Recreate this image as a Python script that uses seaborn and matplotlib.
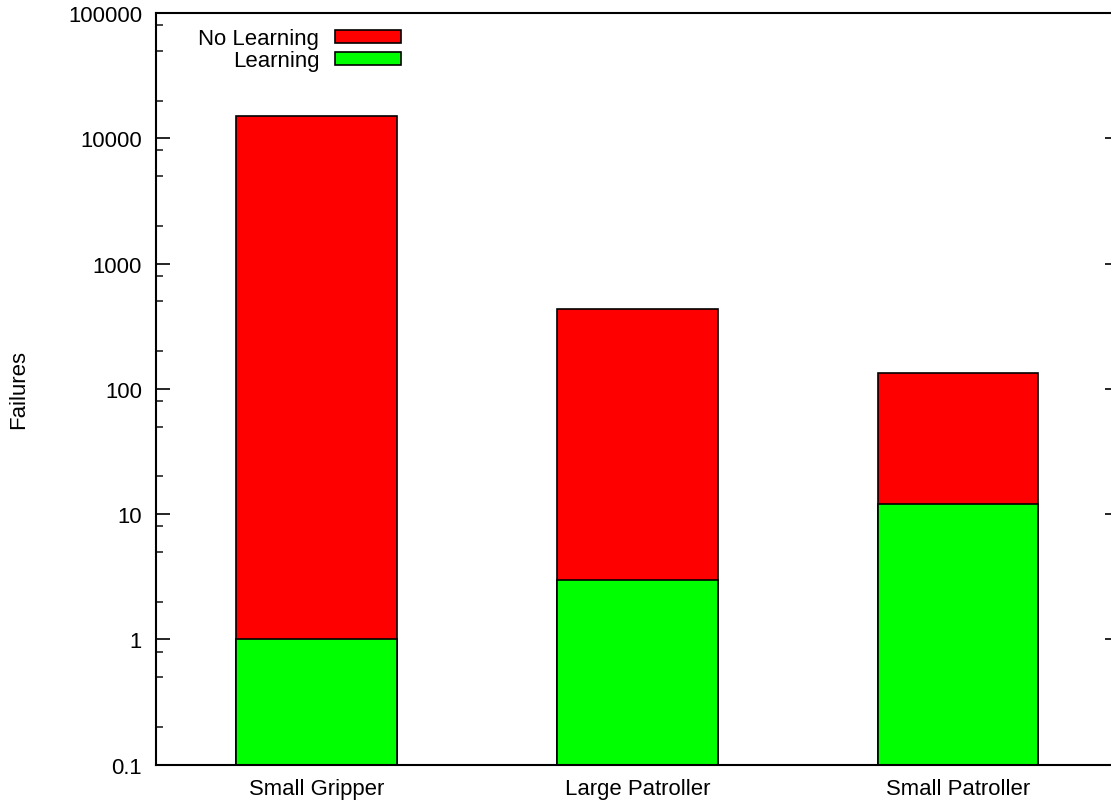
import matplotlib
matplotlib.use("Agg")
import matplotlib.pyplot as plt
import matplotlib.ticker as mticker
from matplotlib.patches import Patch
import seaborn as sns
import pandas as pd

categories = ["Small Gripper", "Large Patroller", "Small Patroller"]
no_learning = [15200, 435, 133]
learning = [1, 3, 12]
series_names = ["No Learning", "Learning"]
series_colors = ["#ff0000", "#00ff00"]

sns.set_theme(style="white")
plt.rcParams["font.family"] = ["Liberation Sans", "DejaVu Sans"]
plt.rcParams["text.color"] = "black"
plt.rcParams["legend.labelcolor"] = "black"
FS = 15.9

fig = plt.figure(figsize=(11.11, 8.03), dpi=100)
ax = fig.add_axes([156 / 1111, 37.3 / 803, (1118.7 - 156) / 1111, (765.7 - 14) / 803])

df_no = pd.DataFrame({"cat": categories, "val": no_learning})
df_l = pd.DataFrame({"cat": categories, "val": learning})

sns.barplot(data=df_no, x="cat", y="val", color=series_colors[0], saturation=1,
            width=0.5, edgecolor="black", linewidth=1.2, ax=ax, log_scale=(False, True))
sns.barplot(data=df_l, x="cat", y="val", color=series_colors[1], saturation=1,
            width=0.5, edgecolor="black", linewidth=1.2, ax=ax)

ax.set_yscale("log")
ax.set_ylim(0.1, 100000)
ax.set_xlim(-0.5, 2.5)
ax.set_xlabel("")
ax.set_ylabel("")

ax.yaxis.set_major_locator(mticker.LogLocator(base=10, numticks=20))
ax.yaxis.set_minor_locator(mticker.LogLocator(base=10, subs=[2, 5, 8], numticks=20))
ax.yaxis.set_major_formatter(mticker.FuncFormatter(
    lambda v, p: ("%.1f" % v) if v < 1 else "%d" % round(v)))
ax.yaxis.set_minor_formatter(mticker.NullFormatter())

ax.tick_params(axis="y", which="major", direction="in", length=10, width=1.2,
               left=True, right=True, labelsize=FS, pad=10, colors="black")
ax.tick_params(axis="y", which="minor", direction="in", length=5, width=1.2,
               left=True, right=True)
ax.tick_params(axis="x", length=0, labelsize=FS, pad=9.5, colors="black")

for s in ax.spines.values():
    s.set_visible(True)
    s.set_color("black")
    s.set_linewidth(1.5)

fig.text(19 / 1111, 1 - 390 / 803, "Failures", rotation=90, ha="center", va="center",
         fontsize=FS, color="black")

handles = [Patch(facecolor=c, edgecolor="black", linewidth=1.2) for c in series_colors]
leg = fig.legend(handles, series_names, loc="upper right",
                 bbox_to_anchor=(401 / 1111, 1 - 29.5 / 803), frameon=False,
                 markerfirst=False, fontsize=FS, handlelength=3.0, handleheight=0.5,
                 handletextpad=0.7, labelspacing=0.03, borderpad=0, borderaxespad=0)
for t in leg.get_texts():
    t.set_ha("right")
    t.set_color("black")

fig.savefig("out.png", dpi=100)
